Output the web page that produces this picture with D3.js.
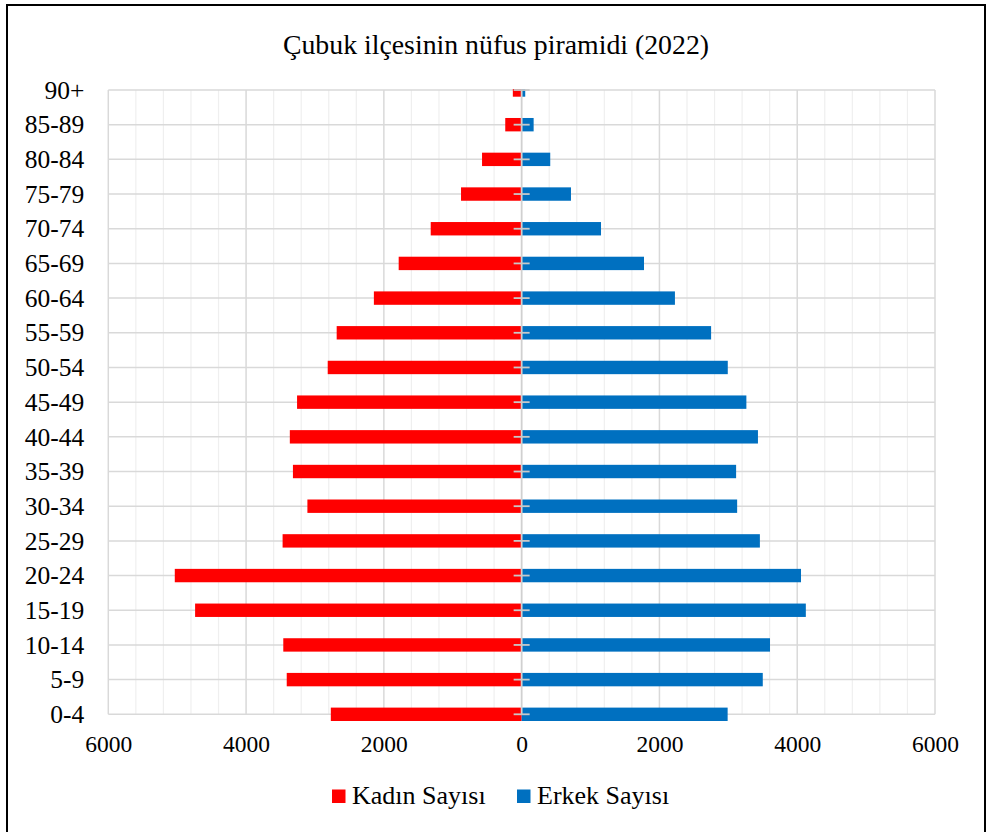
<!DOCTYPE html>
<html>
<head>
<meta charset="utf-8">
<script src="https://cdn.jsdelivr.net/npm/d3@7"></script>
<style>
  html, body { margin: 0; padding: 0; background: #fff; }
  svg { display: block; }
  text { font-family: "Liberation Serif", "Times New Roman", serif; fill: #000; }
</style>
</head>
<body>
<svg id="chart" width="992" height="832"></svg>
<script>
// ---- data ----
const ageGroups = ["0-4","5-9","10-14","15-19","20-24","25-29","30-34","35-39","40-44","45-49",
                   "50-54","55-59","60-64","65-69","70-74","75-79","80-84","85-89","90+"];
const kadinSayisi = [2770, 3410, 3460, 4740, 5035, 3470, 3110, 3320, 3365, 3260,
                     2815, 2685, 2145, 1785, 1320, 880, 575, 238, 128];
const erkekSayisi = [2990, 3500, 3605, 4125, 4055, 3458, 3128, 3113, 3430, 3262,
                     2992, 2750, 2225, 1776, 1152, 716, 415, 174, 52];
const xTicks = [-6000, -4000, -2000, 0, 2000, 4000, 6000];
const seriesNames = ["Kadın Sayısı", "Erkek Sayısı"];
const seriesColors = ["#ff0000", "#0070c0"];
const title = "Çubuk ilçesinin nüfus piramidi (2022)";

// ---- layout ----
const svg = d3.select("#chart");
const L = 108.3, R = 935, T = 90, B = 714.3;
const serif = '"Liberation Serif", "Times New Roman", serif';

svg.append("rect").attr("x", 7).attr("y", 5).attr("width", 978).attr("height", 850)
  .attr("fill", "#fff").attr("stroke", "#000").attr("stroke-width", 2);

const x = d3.scaleLinear().domain([-6000, 6000]).range([L, R]);
const y = d3.scalePoint().domain(ageGroups.slice().reverse()).range([T, B]);

// minor vertical grid
const minor = d3.range(-6000, 6001, 400).filter(v => v % 2000 !== 0);
svg.append("g").selectAll("line").data(minor).join("line")
  .attr("x1", d => x(d)).attr("x2", d => x(d)).attr("y1", T).attr("y2", B)
  .attr("stroke", "#efefef").attr("stroke-width", 1.2);
// major vertical grid
svg.append("g").selectAll("line").data(xTicks.filter(v => v !== 0)).join("line")
  .attr("x1", d => x(d)).attr("x2", d => x(d)).attr("y1", T).attr("y2", B)
  .attr("stroke", "#d9d9d9").attr("stroke-width", 1.5);
// horizontal grid
svg.append("g").selectAll("line").data(ageGroups).join("line")
  .attr("x1", L).attr("x2", R).attr("y1", d => y(d)).attr("y2", d => y(d))
  .attr("stroke", "#d9d9d9").attr("stroke-width", 1.5);

// clip (top of plot only)
svg.append("clipPath").attr("id", "clip").append("rect")
  .attr("x", 0).attr("y", T - 1).attr("width", 992).attr("height", 800);

const barH = 13.4;
const rows = ageGroups.map((g, i) => ({ g, k: kadinSayisi[i], e: erkekSayisi[i] }));
const bars = svg.append("g").attr("clip-path", "url(#clip)");
bars.selectAll("rect.k").data(rows).join("rect").attr("class", "k")
  .attr("x", d => x(-d.k)).attr("width", d => x(0) - x(-d.k))
  .attr("y", d => y(d.g) - barH / 2).attr("height", barH)
  .attr("fill", seriesColors[0]);
bars.selectAll("rect.e").data(rows).join("rect").attr("class", "e")
  .attr("x", x(0)).attr("width", d => x(d.e) - x(0))
  .attr("y", d => y(d.g) - barH / 2).attr("height", barH)
  .attr("fill", seriesColors[1]);

// zero axis with cross ticks
svg.append("line").attr("x1", x(0)).attr("x2", x(0)).attr("y1", T).attr("y2", B)
  .attr("stroke", "#d0d0d0").attr("stroke-width", 1.8);
svg.append("g").selectAll("line").data(ageGroups).join("line")
  .attr("x1", x(0) - 8).attr("x2", x(0) + 8).attr("y1", d => y(d)).attr("y2", d => y(d))
  .attr("stroke", "#c8c8c8").attr("stroke-width", 1.8);

// x axis labels
const xAxis = svg.append("g").attr("transform", `translate(0,${B})`)
  .call(d3.axisBottom(x).tickValues(xTicks).tickFormat(d => Math.abs(d)).tickSize(0).tickPadding(21));
xAxis.attr("font-family", null).attr("font-size", null);
xAxis.select(".domain").remove();
xAxis.selectAll("text").style("font-size", "23.5px").style("font-family", serif).attr("fill", "#000");

// y axis labels
const yAxis = svg.append("g").attr("transform", `translate(${L},0)`)
  .call(d3.axisLeft(y).tickSize(0).tickPadding(24));
yAxis.attr("font-family", null).attr("font-size", null);
yAxis.select(".domain").remove();
yAxis.selectAll("text").style("font-size", "25.5px").style("font-family", serif).attr("fill", "#000");

// title
svg.append("text").attr("x", 496).attr("y", 54).attr("text-anchor", "middle")
  .style("font-size", "27.8px").style("font-family", serif).text(title);

// legend
const legX = [332, 517];
const leg = svg.append("g");
seriesNames.forEach((n, i) => {
  leg.append("rect").attr("x", legX[i]).attr("y", 789.5).attr("width", 13.5).attr("height", 13.5)
    .attr("fill", seriesColors[i]);
  leg.append("text").attr("x", legX[i] + 20).attr("y", 804).style("font-size", "26px")
    .style("font-family", serif).text(n);
});
</script>
</body>
</html>
